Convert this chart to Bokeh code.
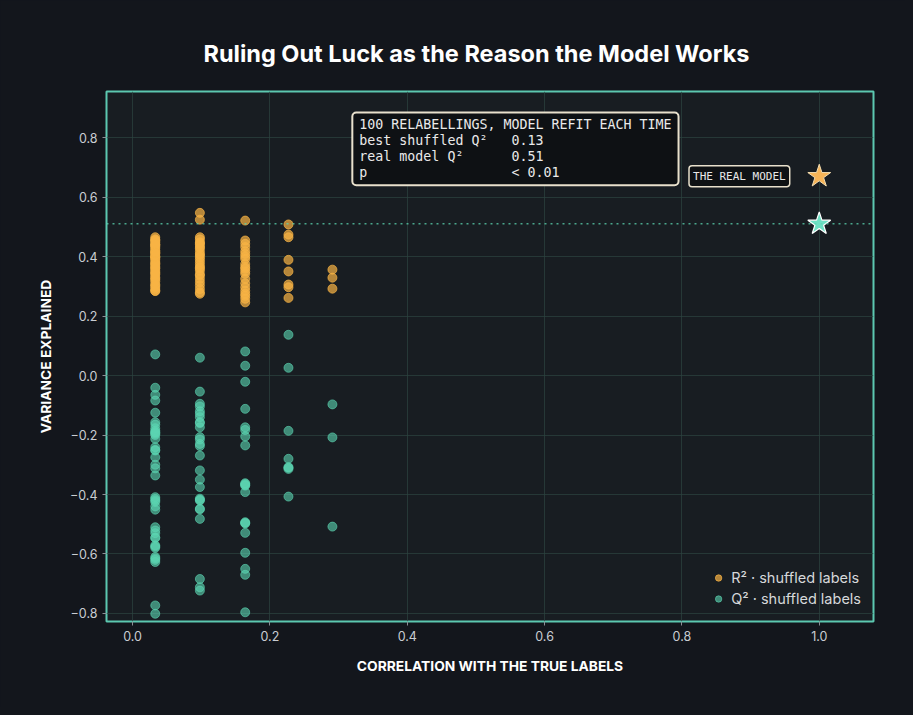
from bokeh.plotting import figure
from bokeh.models import ColumnDataSource, Span, Label, CustomJSTickFormatter, FixedTicker, Range1d
from bokeh.embed import file_html
from bokeh.resources import INLINE

# correlation of each shuffled labelling with the true labels (5 distinct levels)
corr_levels = [0.033, 0.098, 0.164, 0.227, 0.291]

# R^2 of the model refit on shuffled labels, grouped by correlation level
r2_by_level = [
    [0.465, 0.458, 0.452, 0.447, 0.441, 0.433, 0.428, 0.421, 0.414, 0.409, 0.402, 0.396,
     0.391, 0.385, 0.379, 0.372, 0.366, 0.359, 0.352, 0.347, 0.339, 0.331, 0.322, 0.316,
     0.307, 0.298, 0.291, 0.284, 0.455, 0.437, 0.418, 0.398, 0.376, 0.362, 0.343, 0.327,
     0.303, 0.285, 0.440, 0.400, 0.412],
    [0.547, 0.524, 0.465, 0.458, 0.448, 0.440, 0.432, 0.418, 0.409, 0.398, 0.390, 0.381,
     0.372, 0.364, 0.352, 0.336, 0.325, 0.314, 0.303, 0.291, 0.280, 0.275, 0.445, 0.405,
     0.360, 0.340, 0.428],
    [0.521, 0.454, 0.443, 0.432, 0.409, 0.392, 0.375, 0.359, 0.342, 0.325, 0.310, 0.297,
     0.275, 0.258, 0.246, 0.400, 0.365, 0.350, 0.285, 0.418, 0.268],
    [0.508, 0.474, 0.465, 0.389, 0.350, 0.306, 0.297, 0.261],
    [0.356, 0.329, 0.292],
]

# Q^2 (cross-validated) of the same refits
q2_by_level = [
    [0.071, -0.041, -0.065, -0.084, -0.125, -0.157, -0.177, -0.190, -0.196, -0.213, -0.241,
     -0.252, -0.275, -0.312, -0.336, -0.409, -0.420, -0.451, -0.510, -0.521, -0.546, -0.571,
     -0.579, -0.610, -0.627, -0.773, -0.801, -0.192, -0.200, -0.415, -0.425, -0.545, -0.575,
     -0.615, -0.620, -0.165, -0.250, -0.300, -0.440, -0.530, -0.185],
    [0.060, -0.054, -0.095, -0.104, -0.129, -0.157, -0.174, -0.207, -0.230, -0.237, -0.269,
     -0.319, -0.350, -0.375, -0.414, -0.420, -0.448, -0.482, -0.684, -0.712, -0.723, -0.120,
     -0.160, -0.215, -0.418, -0.450, -0.140],
    [0.081, 0.033, -0.021, -0.112, -0.174, -0.183, -0.205, -0.235, -0.362, -0.368, -0.392,
     -0.493, -0.496, -0.529, -0.596, -0.650, -0.670, -0.796, -0.370, -0.365, -0.497],
    [0.137, 0.026, -0.186, -0.280, -0.308, -0.314, -0.407, -0.310],
    [-0.097, -0.208, -0.508],
]

real_corr = 1.0
real_r2 = 0.67
real_q2 = 0.51
best_shuffled_q2 = 0.13

x_ticks = [0.0, 0.2, 0.4, 0.6, 0.8, 1.0]
y_ticks = [-0.8, -0.6, -0.4, -0.2, 0.0, 0.2, 0.4, 0.6, 0.8]

PAGE_BG = "#13161c"
FRAME_BG = "#181d22"
ORANGE = "#f8b445"
TEAL = "#5bd6b2"
FONT = "Inter"
MONO = "DejaVu Sans Mono"
NB = "\u00a0"  # keeps the columns of the box aligned

r2_x, r2_y, q2_x, q2_y = [], [], [], []
for c, vals in zip(corr_levels, r2_by_level):
    r2_x += [c] * len(vals)
    r2_y += vals
for c, vals in zip(corr_levels, q2_by_level):
    q2_x += [c] * len(vals)
    q2_y += vals

r2_src = ColumnDataSource(dict(x=r2_x, y=r2_y))
q2_src = ColumnDataSource(dict(x=q2_x, y=q2_y))

p = figure(width=905, height=707, output_backend="svg", toolbar_location=None,
           x_range=Range1d(-0.038, 1.079), y_range=Range1d(-0.827, 0.955),
           min_border_left=106, min_border_right=32, min_border_top=91, min_border_bottom=86,
           title="Ruling Out Luck as the Reason the Model Works")

p.background_fill_color = FRAME_BG
p.border_fill_color = PAGE_BG
p.outline_line_color = "#5cc8b0"
p.outline_line_width = 2

p.title.text_font = FONT
p.title.text_font_size = "23.5px"
p.title.text_font_style = "bold"
p.title.text_color = "#ffffff"
p.title.align = "left"
p.title.offset = 97
p.title.standoff = 47

p.grid.grid_line_color = "#2c4440"
p.grid.grid_line_alpha = 0.7
p.xaxis.ticker = FixedTicker(ticks=x_ticks)
p.yaxis.ticker = FixedTicker(ticks=y_ticks)

fmt = CustomJSTickFormatter(code="return tick.toFixed(1).replace('-', '\u2212');")
for ax in (p.xaxis, p.yaxis):
    ax.formatter = fmt
    ax.axis_line_color = None
    ax.major_tick_line_color = "#8a9096"
    ax.major_tick_in = 0
    ax.major_tick_out = 4
    ax.minor_tick_line_color = None
    ax.major_label_text_font = FONT
    ax.major_label_text_font_size = "12.5px"
    ax.major_label_text_color = "#c9cdd2"
    ax.axis_label_text_font = FONT
    ax.axis_label_text_font_size = "13.8px"
    ax.axis_label_text_font_style = "bold"
    ax.axis_label_text_color = "#ffffff"

p.xaxis.axis_label = "CORRELATION WITH THE TRUE LABELS"
p.yaxis.axis_label = "VARIANCE EXPLAINED"
p.xaxis.axis_label_standoff = 14
p.yaxis.axis_label_standoff = 13

p.add_layout(Span(location=real_q2, dimension="width", line_color=TEAL,
                  line_alpha=0.75, line_width=1.5, line_dash="2 4"))

p.scatter("x", "y", source=r2_src, size=9, color=ORANGE, alpha=0.7,
          legend_label="R\u00b2 \u00b7 shuffled labels")
p.scatter("x", "y", source=q2_src, size=9, color=TEAL, alpha=0.6,
          legend_label="Q\u00b2 \u00b7 shuffled labels")

p.scatter([real_corr], [real_r2], marker="star", size=24, fill_color="#f7b457",
          line_color="#f3dcb0", line_width=1)
p.scatter([real_corr], [real_q2], marker="star", size=24, fill_color="#6ee0c4",
          line_color="#ffffff", line_width=1.2)

p.add_layout(Label(x=0.957, y=real_r2, text="THE" + NB + "REAL" + NB + "MODEL",
                   text_align="right", text_baseline="middle", text_font=MONO,
                   text_font_size="11px", text_color="#e8e8e8",
                   background_fill_color="#0e1114", border_line_color="#e8e0cc",
                   border_line_width=1.5, padding=4, border_radius=3))

box_lines = [
    "100 RELABELLINGS, MODEL REFIT EACH TIME",
    "best shuffled Q\u00b2" + NB * 3 + "%.2f" % best_shuffled_q2,
    "real model Q\u00b2" + NB * 6 + "%.2f" % real_q2,
    "p" + NB * 18 + "< 0.01",
]
box_text = "\n".join(line.replace(" ", NB) for line in box_lines)
p.add_layout(Label(x=0.320, y=0.884, text=box_text, text_align="left",
                   text_baseline="top", text_font=MONO, text_font_size="13.3px",
                   text_line_height=1.08, text_color="#eaeaea",
                   background_fill_color="#0e1114", border_line_color="#e8e0cc",
                   border_line_width=2, padding=(7, 7, 4, 5), border_radius=4))

p.legend.location = "bottom_right"
p.legend.background_fill_alpha = 0
p.legend.border_line_color = None
p.legend.label_text_font = FONT
p.legend.label_text_font_size = "14.5px"
p.legend.label_text_color = "#d6d8da"
p.legend.spacing = 0
p.legend.label_height = 21
p.legend.glyph_height = 21
p.legend.glyph_width = 16
p.legend.margin = 12
p.legend.padding = 4

html = file_html(p, INLINE)
html = html.replace("<body>", '<body style="background:%s;">' % PAGE_BG)
open("out.html", "w").write(html)
